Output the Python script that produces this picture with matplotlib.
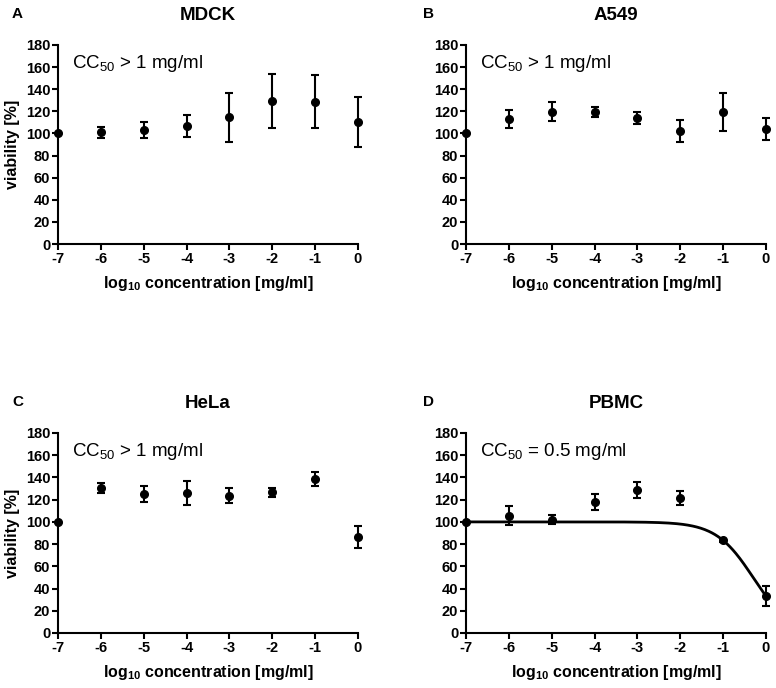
import numpy as np
import matplotlib
matplotlib.use('Agg')
import matplotlib.pyplot as plt

plt.rcParams['font.family'] = ['Liberation Sans', 'DejaVu Sans']
plt.rcParams['mathtext.default'] = 'regular'
plt.rcParams['axes.unicode_minus'] = False

# Data (log10 concentration, viability %, SD)
log_conc = [-7, -6, -5, -4, -3, -2, -1, 0]

mdck_mean = [100, 101, 103, 107, 114.5, 129.5, 128.5, 110.5]
mdck_sd = [np.nan, 5, 7, 10, 22.5, 24.5, 24, 22.5]

a549_mean = [100, 113, 119.5, 119.5, 114, 102.5, 119.5, 104]
a549_sd = [np.nan, 8.5, 8.5, 4.5, 5.5, 10, 17.5, 10.3]

hela_mean = [100, 130.5, 125, 126, 123.5, 126.5, 138.5, 86.5]
hela_sd = [np.nan, 4.8, 7.2, 11.2, 6.8, 3.8, 6.3, 9.6]

pbmc_mean = [100, 105.5, 102, 118, 128.5, 121.5, 83.5, 33.5]
pbmc_sd = [np.nan, 8.5, 4, 7, 7, 6, 1.5, 9.2]

# PBMC dose-response fit (top, bottom, logCC50, hill slope)
fit_top = 100
fit_bottom = 0
fit_logcc50 = np.log10(0.5)
fit_hill = 1.0

panels = [
    ('A', 'MDCK', mdck_mean, mdck_sd, r'CC$_{50}$ > 1 mg/ml'),
    ('B', 'A549', a549_mean, a549_sd, r'CC$_{50}$ > 1 mg/ml'),
    ('C', 'HeLa', hela_mean, hela_sd, r'CC$_{50}$ > 1 mg/ml'),
    ('D', 'PBMC', pbmc_mean, pbmc_sd, r'CC$_{50}$ = 0.5 mg/ml'),
]

W, H = 776, 688
fig = plt.figure(figsize=(W / 100, H / 100), dpi=100)

# axes boxes in pixels: left, top, right, bottom
boxes = [(58, 45, 358, 244), (466, 45, 766, 244),
         (58, 433, 358, 633), (466, 433, 766, 633)]
letter_pos = [(12, 14), (423, 14), (12, 402), (423, 402)]

for i, (letter, name, mean, sd, cc_text) in enumerate(panels):
    l, t, r, b = boxes[i]
    ax = fig.add_axes([l / W, 1 - b / H, (r - l) / W, (b - t) / H])

    ax.errorbar(log_conc, mean, yerr=sd, fmt='o', color='black', ms=5.5,
                capsize=3, elinewidth=1.5, capthick=1.5, clip_on=False, zorder=3)

    if name == 'PBMC':
        xs = np.linspace(-7, 0, 300)
        ys = fit_bottom + (fit_top - fit_bottom) / (1 + 10 ** ((xs - fit_logcc50) * fit_hill))
        ax.plot(xs, ys, color='black', lw=2, clip_on=False)

    ax.set_xlim(-7, 0)
    ax.set_ylim(0, 180)
    ax.set_xticks(range(-7, 1))
    ax.set_yticks(range(0, 181, 20))
    for s in ['top', 'right']:
        ax.spines[s].set_visible(False)
    for s in ['left', 'bottom']:
        ax.spines[s].set_linewidth(1.5)
    ax.tick_params(width=1.5, length=4, labelsize=10.5, pad=1.5)
    for lab in ax.get_xticklabels() + ax.get_yticklabels():
        lab.set_fontweight('bold')

    ax.set_xlabel('log$_{10}$ concentration [mg/ml]', fontsize=11.5,
                  fontweight='bold', labelpad=6)
    if i in (0, 2):
        ax.set_ylabel('viability [%]', fontsize=11.5, fontweight='bold', labelpad=4)

    ax.set_title(name, fontsize=13.5, fontweight='bold', pad=18)
    ax.text(0.045, 0.96, cc_text, transform=ax.transAxes, fontsize=13.5,
            va='top', ha='left')

    lx, ly = letter_pos[i]
    fig.text(lx / W, 1 - ly / H, letter, fontsize=11, fontweight='bold',
             va='center', ha='left')

fig.savefig('out.png', dpi=100)
